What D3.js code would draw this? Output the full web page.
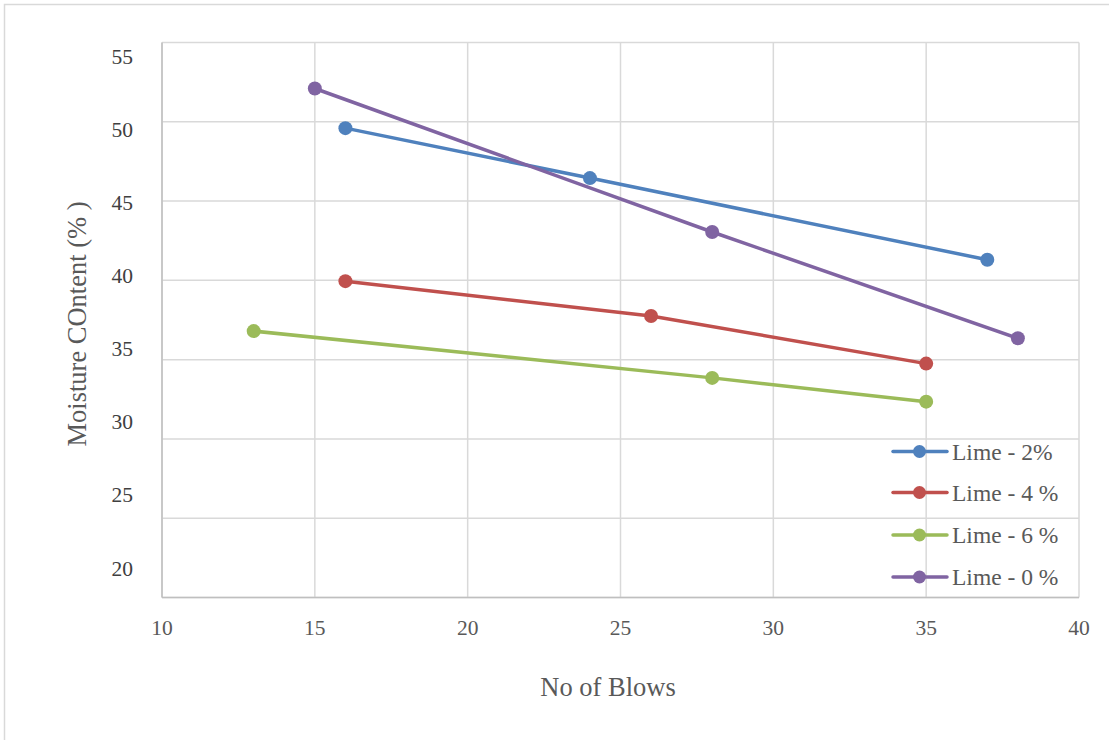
<!DOCTYPE html>
<html><head><meta charset="utf-8">
<script src="https://cdn.jsdelivr.net/npm/d3@7"></script>
<style>body{margin:0;background:#fff}svg{display:block}</style>
</head><body><svg id="c" width="1109" height="740"></svg>
<script>
const seriesNames = ["Lime - 2%", "Lime - 4 %", "Lime - 6 %", "Lime - 0 %"];
const seriesColors = ["#4f81bd", "#c0504d", "#9bbb59", "#8064a2"];
const blows2 = [16, 24, 37];
const moist2 = [49.6, 46.45, 41.3];
const blows4 = [16, 26, 35];
const moist4 = [39.95, 37.75, 34.75];
const blows6 = [13, 28, 35];
const moist6 = [36.8, 33.85, 32.35];
const blows0 = [15, 28, 38];
const moist0 = [52.1, 43.05, 36.35];
const xTicks = [10, 15, 20, 25, 30, 35, 40];
const yTicks = [20, 25, 30, 35, 40, 45, 50, 55];
const xTitle = "No of Blows";
const yTitle = "Moisture COntent (% )";

const seriesX = [blows2, blows4, blows6, blows0];
const seriesY = [moist2, moist4, moist6, moist0];

const svg = d3.select("#c");
const L = 162, R = 1079, T = 42.5, B = 597.5;
const x = d3.scaleLinear().domain([10, 40]).range([L, R]);
const y = d3.scaleLinear().domain([20, 55]).range([B, T]);
// tick labels in the reference drift from their gridlines
const yLab = d3.scaleLinear().domain([20, 55]).range([568, 56]);

// outer chart border
svg.append("rect").attr("x", 4.5).attr("y", 4.5).attr("width", 1120).attr("height", 760)
  .attr("fill", "none").attr("stroke", "#d9d9d9").attr("stroke-width", 1.5);

// gridlines
const g = svg.append("g");
g.selectAll("line.h").data(yTicks).join("line")
  .attr("x1", L).attr("x2", R).attr("y1", d => y(d)).attr("y2", d => y(d))
  .attr("stroke", "#d9d9d9").attr("stroke-width", 1.5);
g.selectAll("line.v").data(xTicks).join("line")
  .attr("y1", T).attr("y2", B).attr("x1", d => x(d)).attr("x2", d => x(d))
  .attr("stroke", "#d9d9d9").attr("stroke-width", 1.5);
// axes lines
svg.append("line").attr("x1", L).attr("x2", L).attr("y1", T).attr("y2", B)
  .attr("stroke", "#bfbfbf").attr("stroke-width", 1.5);
svg.append("line").attr("x1", L).attr("x2", R).attr("y1", B).attr("y2", B)
  .attr("stroke", "#bfbfbf").attr("stroke-width", 1.5);

const font = "'Liberation Serif','Times New Roman',serif";
// tick labels
svg.selectAll("text.yt").data(yTicks).join("text")
  .attr("x", 133).attr("y", d => yLab(d)).attr("dy", "0.35em")
  .attr("text-anchor", "end").attr("font-family", font).attr("font-size", 21.5)
  .attr("fill", "#404040").text(d => d);
svg.selectAll("text.xt").data(xTicks).join("text")
  .attr("x", d => x(d)).attr("y", 627).attr("dy", "0.35em")
  .attr("text-anchor", "middle").attr("font-family", font).attr("font-size", 21.5)
  .attr("fill", "#595959").text(d => d);

// axis titles
svg.append("text").attr("x", 608).attr("y", 687).attr("dy", "0.35em")
  .attr("text-anchor", "middle").attr("font-family", font).attr("font-size", 26.5)
  .attr("fill", "#595959").text(xTitle);
svg.append("text").attr("transform", "translate(77,324) rotate(-90)").attr("dy", "0.35em")
  .attr("text-anchor", "middle").attr("font-family", font).attr("font-size", 26.5)
  .attr("fill", "#595959").text(yTitle);

// series
const line = d3.line().x(d => x(d[0])).y(d => y(d[1]));
seriesNames.forEach((name, i) => {
  const pts = seriesX[i].map((v, j) => [v, seriesY[i][j]]);
  const sg = svg.append("g");
  sg.append("path").attr("d", line(pts)).attr("fill", "none")
    .attr("stroke", seriesColors[i]).attr("stroke-width", 3.5).attr("stroke-linecap", "round");
  sg.selectAll("circle").data(pts).join("circle")
    .attr("cx", d => x(d[0])).attr("cy", d => y(d[1])).attr("r", 7)
    .attr("fill", seriesColors[i]);
});

// legend
const legY = [451.5, 492.5, 535, 577];
seriesNames.forEach((name, i) => {
  const lg = svg.append("g");
  lg.append("line").attr("x1", 893).attr("x2", 947).attr("y1", legY[i]).attr("y2", legY[i])
    .attr("stroke", seriesColors[i]).attr("stroke-width", 3.5).attr("stroke-linecap", "round");
  lg.append("circle").attr("cx", 919.5).attr("cy", legY[i]).attr("r", 6.5).attr("fill", seriesColors[i]);
  lg.append("text").attr("x", 952).attr("y", legY[i]).attr("dy", "0.35em")
    .attr("font-family", font).attr("font-size", 23.5).attr("fill", "#595959").text(name);
});
</script></body></html>
